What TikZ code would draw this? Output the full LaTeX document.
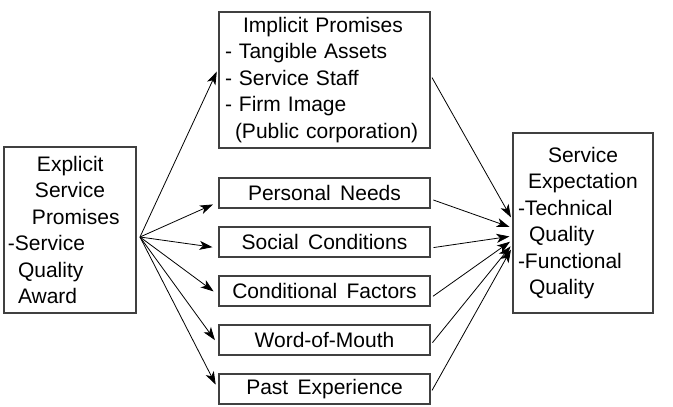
\documentclass[tikz,border=0pt]{standalone}
\usepackage{fontspec}
\setmainfont{Liberation Sans}[WordSpace=1.6]
\usetikzlibrary{arrows.meta}

\begin{document}
\begin{tikzpicture}[x=1pt, y=-1pt,
        box/.style={draw=black!75, line width=1.1pt, inner sep=0pt,
                    font=\fontsize{21}{26.5}\selectfont},
        item/.style={box, minimum width=211pt, minimum height=30pt},
        arr/.style={-{Stealth[length=13pt,width=9pt,inset=3.5pt]}, line width=0.8pt}
    ]
    \useasboundingbox (0,0) rectangle (673,407);

    \node[box, minimum width=132pt, minimum height=166pt, text width=124pt, align=left] (exp) at (70,230)
        {\hspace{29pt}Explicit\\\hspace{27pt}Service\\\hspace{24pt}Promises\\-Service\\\hspace{10pt}Quality\\\hspace{10pt}Award};
    \node[box, minimum width=211pt, minimum height=136pt, text width=199pt, align=left] (imp) at (324.5,80)
        {\hspace{18pt}Implicit Promises\\- Tangible Assets\\- Service Staff\\- Firm Image\\\hspace{10pt}(Public corporation)};

    \node[item] (pn) at (324.5,193) {Personal Needs};
    \node[item] (sc) at (324.5,242) {Social Conditions};
    \node[item] (cf) at (324.5,291) {Conditional Factors};
    \node[item] (wm) at (324.5,340) {Word-of-Mouth};
    \node[item] (pe) at (324.5,389) {Past Experience};

    \node[box, minimum width=140pt, minimum height=180pt, text width=130pt, align=left] (se) at (583,223)
        {\hspace{30pt}Service\\\hspace{10pt}Expectation\\-Technical\\\hspace{11pt}Quality\\-Functional\\\hspace{11pt}Quality};

    \coordinate (src) at (140,237);

    \draw[arr, shorten >=4pt] (src) -- ([yshift=12pt]imp.west);
    \draw[arr, shorten >=6pt] (src) -- ([yshift=-9pt]pn.west);
    \draw[arr, shorten >=6pt] (src) -- ([yshift=-6pt]sc.west);
    \draw[arr, shorten >=6pt] (src) -- ([yshift=-4pt]cf.west);
    \draw[arr, shorten >=6pt] (src) -- ([yshift=-5pt]wm.west);
    \draw[arr, shorten >=6pt] (src) -- ([yshift=-1pt]pe.west);

    \draw[arr, shorten <=3pt, shorten >=3pt] ([yshift=5pt]imp.east) -- ([yshift=3pt]se.west);
    \draw[arr, shorten <=3pt, shorten >=3pt] ([yshift=-6pt]pn.east) -- ([yshift=-5pt]se.west);
    \draw[arr, shorten <=3pt, shorten >=3pt] ([yshift=-6pt]sc.east) -- ([yshift=-13pt]se.west);
    \draw[arr, shorten <=3pt, shorten >=3pt] ([yshift=-7pt]cf.east) -- ([yshift=-17pt]se.west);
    \draw[arr, shorten <=3pt, shorten >=3pt] ([yshift=-5pt]wm.east) -- ([yshift=-21pt]se.west);
    \draw[arr, shorten <=3pt, shorten >=3pt] ([yshift=-4pt]pe.east) -- ([yshift=-24pt]se.west);
\end{tikzpicture}
\end{document}
